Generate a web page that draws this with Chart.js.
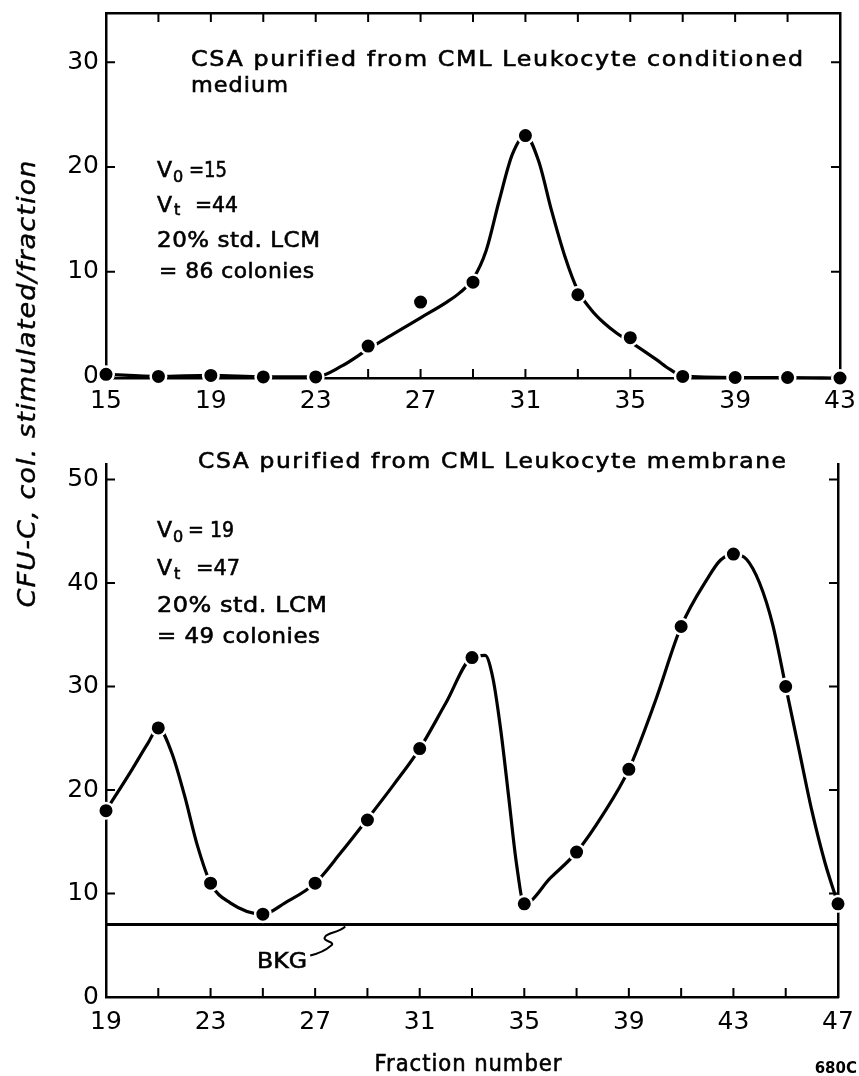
<!DOCTYPE html>
<html>
<head>
<meta charset="utf-8">
<script src="https://cdn.jsdelivr.net/npm/chart.js"></script>
<style>
html,body{margin:0;padding:0;background:#fff;}
#wrap{position:relative;width:859px;height:1076px;overflow:hidden;background:#fff;}
#wrap canvas{position:absolute;left:0;top:0;}
</style>
</head>
<body>
<div id="wrap">
<canvas id="top" width="859" height="1076"></canvas>
<canvas id="bottom" width="859" height="1076"></canvas>
</div>
<script>
// ---------- data ----------
const fractionsTop = [15,17,19,21,23,25,27,29,31,33,35,37,39,41,43];
const coloniesTop  = [0.2,0,0.1,-0.05,-0.05,2.9,7.1,9.0,23.0,7.8,3.7,0,-0.1,-0.1,-0.15];
// hand-drawn smooth curve
const curveTopX = [15,17,19,21,23,24,25,26,27,28,28.5,29,29.5,30,30.5,31,31.5,32,32.5,33,33.5,34,34.5,35,36,36.5,37,39,41,43];
const curveTopY = [0.2,0,0.1,-0.05,-0.05,1.0,2.6,4.1,5.6,7.1,8.0,9.3,12.0,16.8,21.2,23,20.6,15.8,11.5,8.2,6.4,5.1,4.1,3.3,1.6,0.7,0.05,-0.1,-0.1,-0.15];

const fractionsBottom = [19,21,23,25,27,29,31,33,35,37,39,41,43,45,47];
const coloniesBottom  = [18,26,11,8,11,17.1,24,32.8,9,14,22,35.8,42.8,30,9];
const curveBottomX = [19,20,20.6,21,21.5,22,22.5,23,23.75,25,25.85,27,28,29,30,31,32,33,33.5,33.8,34.1,34.4,34.7,35,36,37,38,39,40,41,42,42.5,43,43.5,44,44.5,45,45.5,46,46.5,47];
const curveBottomY = [18,22,24.5,26,23.7,19.5,14.6,11,9.1,8.0,9.1,11,14,17.2,20.5,24,28.4,32.8,33.0,30.8,25.8,19.4,12.9,9,11.5,14,17.6,22,28.5,35.8,40.4,42.2,42.8,42.3,40,36,30,24,18,13,9];
const bkgX = [19,47];
const bkgY = [7,7];

const yTicksTop = [0,10,20,30];
const xLabelsTop = [15,19,23,27,31,35,39,43];
const yTicksBottom = [0,10,20,30,40,50];
const xLabelsBottom = [19,23,27,31,35,39,43,47];

const FONT = '"DejaVu Sans", "Liberation Sans", sans-serif';
const pts = (xs, ys) => xs.map((x, i) => ({x, y: ys[i]}));

// ---------- plugins ----------
const innerTicks = {
  id: 'innerTicks',
  beforeDatasetsDraw(chart, args, opts) {
    const ctx = chart.ctx, a = chart.chartArea, L = opts.length || 9;
    ctx.save();
    ctx.strokeStyle = '#000';
    ctx.lineWidth = 2;
    for (const m of opts.marks || []) {
      const s = chart.scales[m.axis];
      ctx.beginPath();
      for (const v of m.values) {
        const p = s.getPixelForValue(v);
        if (m.side === 'bottom') { ctx.moveTo(p, a.bottom); ctx.lineTo(p, a.bottom - L); }
        else if (m.side === 'top') { ctx.moveTo(p, a.top); ctx.lineTo(p, a.top + L); }
        else if (m.side === 'left') { ctx.moveTo(a.left, p); ctx.lineTo(a.left + L, p); }
        else { ctx.moveTo(a.right, p); ctx.lineTo(a.right - L, p); }
      }
      ctx.stroke();
    }
    ctx.restore();
  }
};

function drawText(ctx, t) {
  ctx.save();
  ctx.font = t.font;
  ctx.fillStyle = '#000';
  ctx.strokeStyle = '#000';
  const sw = t.sw === undefined ? 0.6 : t.sw;
  if (sw > 0) ctx.lineWidth = sw;
  ctx.textBaseline = 'alphabetic';
  ctx.textAlign = 'left';
  if ('letterSpacing' in ctx) ctx.letterSpacing = (t.ls || 0) + 'px';
  let w = ctx.measureText(t.text).width - (t.ls || 0);
  ctx.translate(t.x, t.y);
  if (t.rot) ctx.rotate(t.rot);
  const sx = t.w ? t.w / w : 1;
  ctx.scale(sx, 1);
  const x0 = t.align === 'center' ? -w / 2 : (t.align === 'right' ? -w : 0);
  ctx.fillText(t.text, x0, 0);
  if (sw > 0) ctx.strokeText(t.text, x0, 0);
  ctx.restore();
}

const textPlugin = {
  id: 'texts',
  afterDraw(chart, args, opts) {
    const ctx = chart.ctx;
    for (const t of opts.items || []) drawText(ctx, t);
    if (opts.bkg) {
      const sx = chart.scales.x, sy = chart.scales.y;
      const ax = sx.getPixelForValue(opts.bkg.x), ay = sy.getPixelForValue(opts.bkg.y);
      ctx.save();
      ctx.strokeStyle = '#000';
      ctx.lineWidth = 2;
      ctx.beginPath();
      ctx.moveTo(ax - 35, ay + 31);
      ctx.quadraticCurveTo(ax - 22, ay + 28, ax - 14, ay + 21);
      ctx.bezierCurveTo(ax - 9, ay + 17, ax - 24, ay + 17, ax - 20, ay + 12);
      ctx.bezierCurveTo(ax - 17, ay + 8, ax - 6, ay + 8, ax, ay + 2);
      ctx.stroke();
      ctx.restore();
    }
  }
};

const F22 = '22px ' + FONT;
const FSUB = '16px ' + FONT;

function scaleCommon(extra) {
  return Object.assign({
    grid: {display: true, drawOnChartArea: false, drawTicks: false},
    border: {display: true, color: '#000', width: 2.5}
  }, extra);
}
function zeroPad(s) { s.paddingLeft = 0; s.paddingRight = 0; s.paddingTop = 0; s.paddingBottom = 0; }

function makeChart(id, cfg) {
  return new Chart(document.getElementById(id), {
    type: 'line',
    data: {
      datasets: [
        {
          data: pts(cfg.fx, cfg.fy), showLine: false, clip: false,
          pointRadius: 7.75, pointHoverRadius: 7.75, pointBorderWidth: 2.5,
          pointBackgroundColor: '#000', pointBorderColor: '#fff'
        },
        {
          data: pts(cfg.cx, cfg.cy), borderColor: '#000', borderWidth: 3.2,
          pointRadius: 0, fill: false, cubicInterpolationMode: 'monotone', clip: false
        }
      ].concat(cfg.extra || [])
    },
    options: {
      responsive: false, animation: false, devicePixelRatio: 1,
      layout: {padding: cfg.padding},
      plugins: {
        legend: {display: false}, tooltip: {enabled: false},
        innerTicks: {length: 9, marks: cfg.marks},
        texts: {items: cfg.texts, bkg: cfg.bkg}
      },
      scales: Object.assign({
        x: scaleCommon({
          type: 'linear', position: 'bottom', min: cfg.xmin, max: cfg.xmax,
          afterBuildTicks: s => { s.ticks = cfg.fx.map(v => ({value: v})); },
          afterFit: s => { s.height = 40; zeroPad(s); },
          ticks: {autoSkip: false, maxRotation: 0, padding: cfg.xpad, color: '#000',
                  font: {family: FONT, size: 25},
                  callback: v => cfg.xl.includes(v) ? String(v) : ''}
        }),
        y: scaleCommon({
          type: 'linear', position: 'left', min: cfg.ymin, max: cfg.ymax,
          afterBuildTicks: s => { s.ticks = cfg.yt.map(v => ({value: v})); },
          afterFit: s => { s.width = 106; zeroPad(s); },
          ticks: {padding: 7, color: '#000', font: {family: FONT, size: 25}}
        }),
        y2: scaleCommon({
          type: 'linear', position: 'right', min: cfg.ymin, max: cfg.ymax,
          afterFit: s => { s.width = 0; zeroPad(s); },
          ticks: {display: false}
        })
      }, cfg.topAxis ? {
        x2: scaleCommon({
          type: 'linear', position: 'top', min: cfg.xmin, max: cfg.xmax,
          afterFit: s => { s.height = 0; zeroPad(s); },
          ticks: {display: false}
        })
      } : {})
    },
    plugins: [innerTicks, textPlugin]
  });
}

// ---------- upper panel ----------
makeChart('top', {
  fx: fractionsTop, fy: coloniesTop, cx: curveTopX, cy: curveTopY,
  xmin: 15, xmax: 43, ymin: -0.15, ymax: 34.7, yt: yTicksTop, xl: xLabelsTop,
  xpad: 8, topAxis: true,
  padding: {left: 0, right: 19, top: 13, bottom: 658},
  marks: [
    {axis: 'x', side: 'top', values: fractionsTop},
    {axis: 'x', side: 'bottom', values: fractionsTop},
    {axis: 'y', side: 'left', values: yTicksTop},
    {axis: 'y', side: 'right', values: yTicksTop}
  ],
  texts: [
    {text: 'CSA purified from CML Leukocyte conditioned', x: 191, y: 66, font: F22, ls: 1.5, w: 612},
    {text: 'medium', x: 191, y: 92, font: F22, ls: 1, w: 97},
    {text: 'V', x: 157, y: 177, font: F22},
    {text: '0', x: 173, y: 182, font: FSUB},
    {text: '=15', x: 189, y: 177, font: F22, w: 38},
    {text: 'V', x: 157, y: 212, font: F22},
    {text: 't', x: 174, y: 215, font: FSUB},
    {text: '=44', x: 195, y: 212, font: F22, w: 43},
    {text: '20% std. LCM', x: 157, y: 247, font: F22, ls: 0.5, w: 163},
    {text: '= 86 colonies', x: 159, y: 278, font: F22, ls: 0.5, w: 155},
    {text: 'CFU-C, col. stimulated/fraction', x: 35, y: 384, rot: -Math.PI / 2,
     align: 'center', font: 'italic 25px ' + FONT, ls: 1, w: 447, sw: 0.4}
  ]
});

// ---------- lower panel ----------
makeChart('bottom', {
  fx: fractionsBottom, fy: coloniesBottom, cx: curveBottomX, cy: curveBottomY,
  xmin: 19, xmax: 47, ymin: 0, ymax: 51.5, yt: yTicksBottom, xl: xLabelsBottom,
  xpad: 10, topAxis: false,
  padding: {left: 0, right: 21, top: 464, bottom: 39},
  extra: [{
    data: pts(bkgX, bkgY), borderColor: '#000', borderWidth: 3, pointRadius: 0,
    fill: false, clip: false
  }],
  marks: [
    {axis: 'x', side: 'bottom', values: fractionsBottom},
    {axis: 'y', side: 'left', values: yTicksBottom},
    {axis: 'y', side: 'right', values: yTicksBottom}
  ],
  bkg: {x: 28.15, y: 7},
  texts: [
    {text: 'CSA purified from CML Leukocyte membrane', x: 198, y: 468, font: F22, ls: 1.5, w: 588},
    {text: 'V', x: 157, y: 537, font: F22},
    {text: '0', x: 173, y: 542, font: FSUB},
    {text: '= 19', x: 188, y: 537, font: F22, w: 46},
    {text: 'V', x: 157, y: 575, font: F22},
    {text: 't', x: 174, y: 579, font: FSUB},
    {text: '=47', x: 196, y: 575, font: F22, w: 44},
    {text: '20% std. LCM', x: 157, y: 612, font: F22, ls: 0.5, w: 170},
    {text: '= 49 colonies', x: 157, y: 643, font: F22, ls: 0.5, w: 163},
    {text: 'BKG', x: 257, y: 968, font: '21px ' + FONT, w: 50},
    {text: 'Fraction number', x: 468, y: 1071, align: 'center', font: '23px ' + FONT, ls: 1, w: 187},
    {text: '680C', x: 857, y: 1073, align: 'right', font: 'bold 15px ' + FONT, sw: 0}
  ]
});
</script>
</body>
</html>
